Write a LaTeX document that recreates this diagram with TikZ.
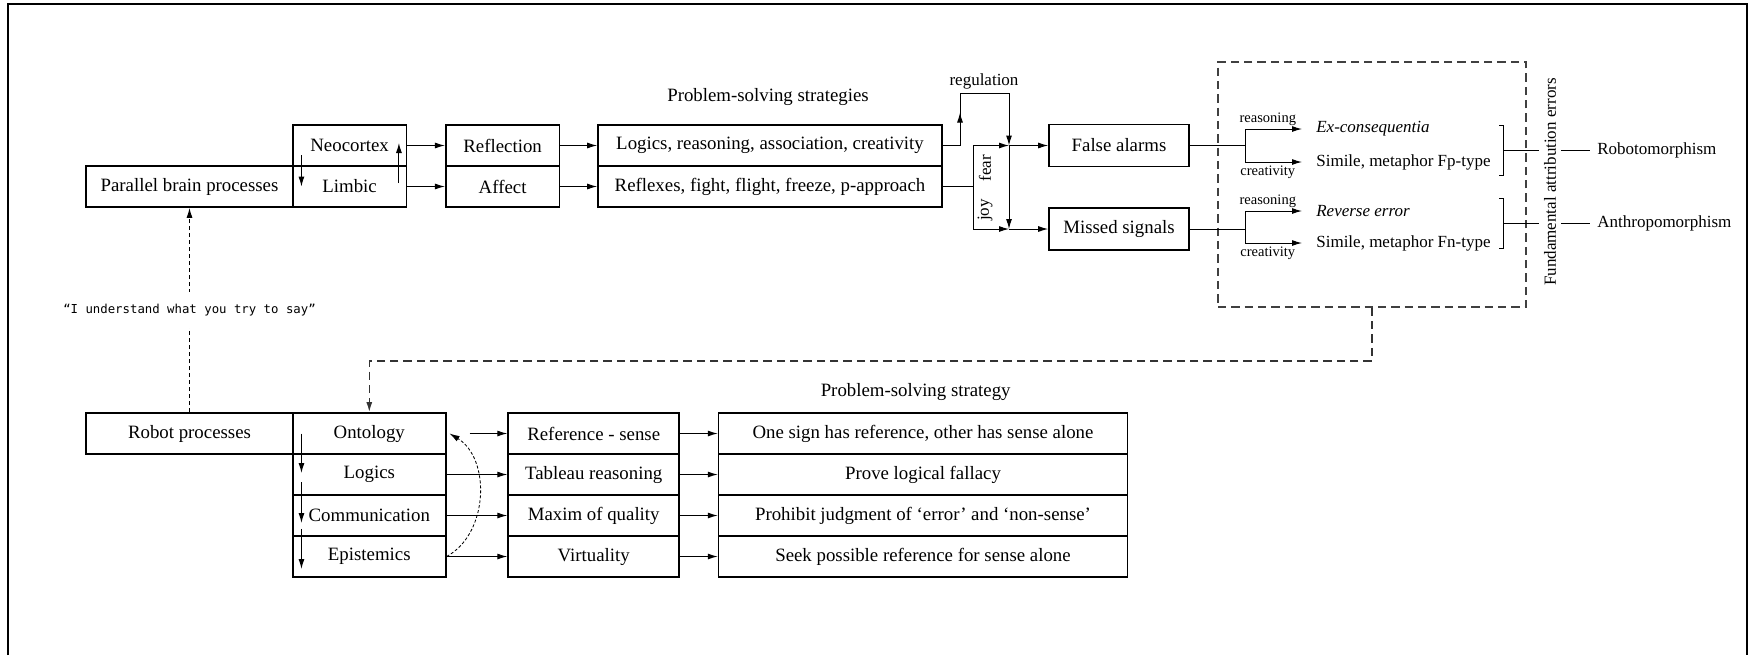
\documentclass[tikz,border=0pt]{standalone}
\usepackage{fontspec}
\setmainfont{Liberation Serif}
\newfontfamily\monofont{DejaVu Sans Mono}
\usetikzlibrary{arrows.meta}

\begin{document}
\begin{tikzpicture}[x=0.6pt,y=-0.6pt,
    >={Latex[length=6pt,width=3.6pt]},
    box/.style={draw,line width=1pt,inner sep=0pt,minimum height=24.6pt,
        font=\fontsize{11.3}{13}\selectfont},
    conn/.style={line width=0.6pt},
    txt/.style={inner sep=0pt,font=\fontsize{10.2}{12}\selectfont},
    head/.style={inner sep=0pt,font=\fontsize{11.3}{13}\selectfont},
    small/.style={inner sep=2pt,font=\fontsize{8.7}{10}\selectfont}]

    \useasboundingbox (0,0) rectangle (1750,655);
    \draw[line width=1.5pt] (8,655) -- (8,4) -- (1747,4) -- (1747,655);

    % brain side
    \node[box,minimum width=124.2pt] (par) at (189.5,186.5) {Parallel brain processes};
    \node[box,minimum width=68.2pt] (neo) at (349.6,145.5) {Neocortex};
    \node[box,minimum width=68.2pt] (lim) at (349.6,186.5) {Limbic};
    \node[box,minimum width=68.2pt] (refl) at (502.6,145.5) {Reflection};
    \node[box,minimum width=68.2pt] (aff) at (502.6,186.5) {Affect};
    \node[box,minimum width=206.4pt] (logic) at (770,145.5) {Logics, reasoning, association, creativity};
    \node[box,minimum width=206.4pt] (reflex) at (770,186.5) {Reflexes, fight, flight, freeze, p-approach};
    \node[head] (pss) at (768,97) {Problem-solving strategies};
    \node[box,minimum width=84pt,minimum height=25.2pt] (fa) at (1119,145.5) {False alarms};
    \node[box,minimum width=84pt,minimum height=25.2pt] (ms) at (1119,229) {Missed signals};

    \draw[conn,->] (neo) -- (refl);
    \draw[conn,->] (lim) -- (aff);
    \draw[conn,->] (refl) -- (logic);
    \draw[conn,->] (aff) -- (reflex);
    \draw[conn,->] ([xshift=5.7pt,yshift=-5.7pt]neo.west) -- ([xshift=5.7pt]lim.west);
    \draw[conn,->] ([xshift=-5pt,yshift=2.1pt]lim.east) -- ([xshift=-5pt,yshift=1.5pt]neo.east);

    % regulation, fear and joy
    \coordinate (j1) at (1009,145.5);
    \coordinate (j2) at (1009,229);
    \coordinate (reg) at (960,93);
    \coordinate (fj) at (973,145.5);
    \coordinate (jj) at (973,229);
    \draw[conn,->] (logic.east) -| (reg) -| (j1);
    \draw[conn,->] (logic.east -| reg) -- ++(0,-33);
    \node[txt] (regl) at (984,81) {regulation};
    \draw[conn] (reflex.east) -- (reflex.east -| fj);
    \draw[conn,->] (reflex.east -| fj) -- (fj) -- (j1);
    \draw[conn,->] (reflex.east -| fj) -- (jj) -- (j2);
    \draw[conn,->] (j1) -- (j2);
    \draw[conn,->] (j1) -- (fa);
    \draw[conn,->] (j2) -- (ms);
    \node[txt,rotate=90] (fearl) at (985,168) {fear};
    \node[txt,rotate=90] (joyl) at (985,210) {joy};

    % attribution errors
    \node[draw=black!75,line width=0.9pt,dash pattern=on 5pt off 3pt,inner sep=0pt,
        minimum width=184.8pt,minimum height=147pt] (errbox) at (1372,184.5) {};
    \node[txt,anchor=west,inner xsep=8.4pt] (exc) at (1302,129) {\textit{Ex-consequentia}};
    \node[txt,anchor=west,inner xsep=8.4pt] (fp) at (1302,162) {Simile, metaphor Fp-type};
    \node[txt,anchor=west,inner xsep=8.4pt] (rev) at (1302,211) {\textit{Reverse error}};
    \node[txt,anchor=west,inner xsep=8.4pt] (fn) at (1302,243) {Simile, metaphor Fn-type};
    \coordinate (fab) at (1245,145.5);
    \coordinate (msb) at (1245,229);
    \draw[conn] (fa) -- (fab);
    \draw[conn,->] (fab) |- node[small,pos=0.7,above] {reasoning} (exc);
    \draw[conn,->] (fab) |- node[small,pos=0.7,below] {creativity} (fp);
    \draw[conn] (ms) -- (msb);
    \draw[conn,->] (msb) |- node[small,pos=0.7,above] {reasoning} (rev);
    \draw[conn,->] (msb) |- node[small,pos=0.7,below] {creativity} (fn);

    \coordinate (brA) at (1503,150);
    \coordinate (brB) at (1503,223);
    \draw[conn] (1499,125) -- (1503,125) -- (1503,175) -- (1499,175);
    \draw[conn] (1499,198) -- (1503,198) -- (1503,248) -- (1499,248);
    \node[txt,anchor=west,inner xsep=4.2pt] (robo) at (1590,150) {Robotomorphism};
    \node[txt,anchor=west,inner xsep=4.2pt] (anth) at (1590,223) {Anthropomorphism};
    \draw[conn] (brA) -- (robo);
    \draw[conn] (brB) -- (anth);
    \node[txt,rotate=90,fill=white,inner xsep=2pt,inner ysep=3pt] (fae) at (1550,182) {Fundamental attribution errors};

    % robot side
    \node[box,minimum width=124.2pt] (robot) at (189.5,433.5) {Robot processes};
    \foreach \nm/\y/\dom/\refx/\strat in {
        onto/433.5/Ontology/Reference - sense/{One sign has reference, other has sense alone},
        logi/474.5/Logics/Tableau reasoning/Prove logical fallacy,
        comm/515.5/Communication/Maxim of quality/{Prohibit judgment of ‘error’ and ‘non-sense’},
        epis/556.5/Epistemics/Virtuality/Seek possible reference for sense alone}{
        \node[box,minimum width=91.8pt] (\nm) at (369.3,\y) {\dom};
        \node[box,minimum width=102.7pt] (\nm-r) at (593.7,\y) {\refx};
        \node[box,minimum width=245.3pt] (\nm-s) at (923,\y) {\strat};
        \draw[conn,->] (\nm-r) -- (\nm-s);
    }
    \node[head] (pst) at (915.7,392) {Problem-solving strategy};

    \draw[conn,->] ([xshift=13.8pt]onto.east) -- (onto-r);
    \foreach \nm in {logi,comm,epis}
        \draw[conn,->] (\nm) -- (\nm-r);
    \draw[conn,->] ([xshift=5.7pt]onto.west) -- ([xshift=5.7pt,yshift=0.9pt]logi.west);
    \draw[conn,->] ([xshift=5.7pt,yshift=-4.5pt]logi.west) -- ([xshift=5.7pt,yshift=-4.5pt]comm.west);
    \draw[conn,->] ([xshift=5.7pt,yshift=-8pt]comm.west) -- ([xshift=5.7pt,yshift=-7.5pt]epis.west);
    \draw[line width=0.5pt,dash pattern=on 1.8pt off 1.2pt,->] (epis.east) to[bend right=60] ([xshift=1.8pt]onto.east);

    % feedback
    \draw[black!80,line width=0.9pt,dash pattern=on 5pt off 3pt,->] (errbox.south) -- ++(0,53) -| (onto.north);
    \draw[conn,dash pattern=on 2.4pt off 1.8pt,->] (robot) -- (par);
    \node[fill=white,inner xsep=2pt,inner ysep=7pt,font=\monofont\fontsize{7.4}{9}\selectfont] (say) at (189.5,310) {“I understand what you try to say”};
\end{tikzpicture}
\end{document}
